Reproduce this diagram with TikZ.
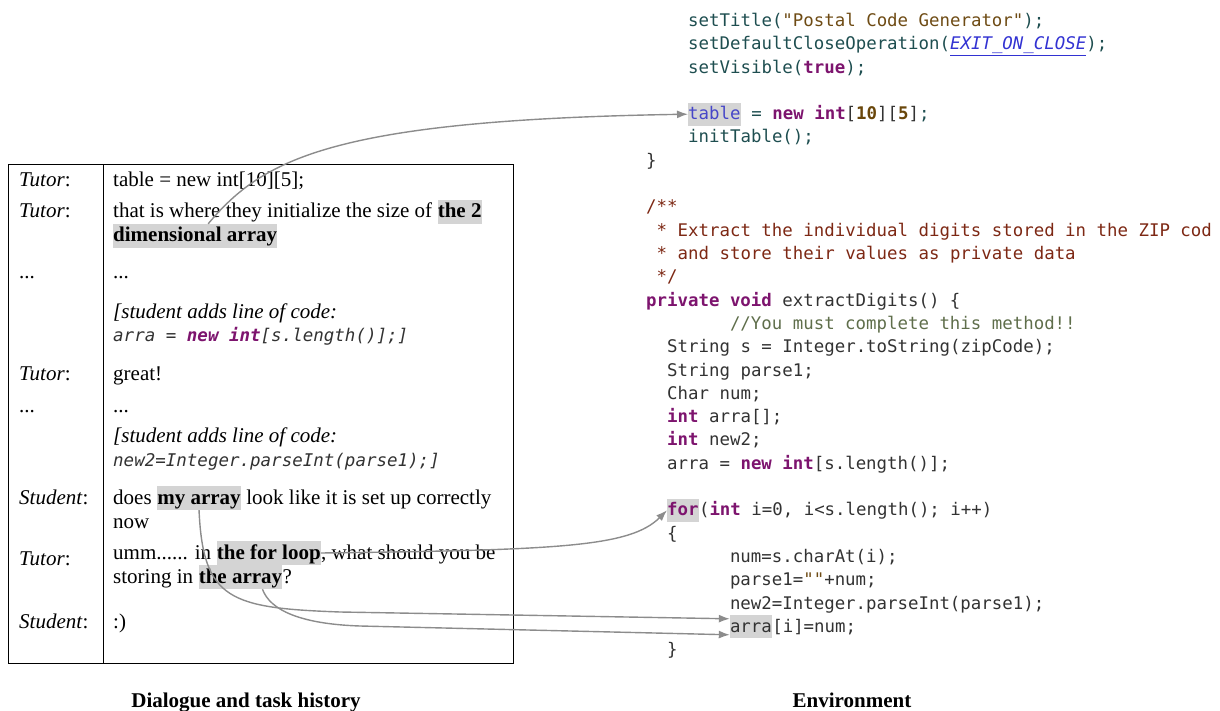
\documentclass[tikz,border=0pt]{standalone}
\usepackage{fontspec}
\setmainfont{Liberation Serif}
\newfontfamily\codefont{DejaVu Sans Mono}[Ligatures=TeXOff]
\usetikzlibrary{arrows.meta}
\definecolor{hlgray}{RGB}{212,212,212}
\definecolor{arrgray}{RGB}{140,140,140}
\definecolor{codegray}{RGB}{50,50,50}
\definecolor{codeteal}{RGB}{30,78,80}
\definecolor{kwpurple}{RGB}{125,20,110}
\definecolor{strbrown}{RGB}{110,75,20}
\definecolor{numbrown}{RGB}{105,70,10}
\definecolor{constblue}{RGB}{50,50,210}
\definecolor{fieldblue}{RGB}{70,70,200}
\definecolor{doccol}{RGB}{125,40,20}
\definecolor{cmtgreen}{RGB}{95,110,75}
\tikzset{dlg/.style={inner sep=0pt, anchor=base west, font=\fontsize{21}{24}\selectfont},
         dlghl/.style={dlg, fill=hlgray, text height=18pt, text depth=6pt},
         dlgcode/.style={dlg, text=codegray, font=\codefont\itshape\fontsize{17.5}{23}\selectfont},
         codeln/.style={inner sep=0pt, anchor=base west, text=codegray, font=\codefont\fontsize{17.4}{23}\selectfont},
         codehl/.style={codeln, fill=hlgray, text height=17pt, text depth=6pt},
         link/.style={draw=arrgray, line width=1.4pt, -{Latex[length=11pt,width=8pt]}},
         paneltitle/.style={anchor=base, font=\fontsize{21}{24}\selectfont\bfseries}}
\begin{document}
\begin{tikzpicture}[x=1pt,y=-1pt]
    \useasboundingbox (0,0) rectangle (1220,711);
    % dialogue and task history
    \draw[line width=1pt] (8,165) rectangle (513,663);
    \draw[line width=1pt] (103,165) -- (103,663);
    \node[dlg] (sp1) at (19,187) {\textit{Tutor}:};
    \node[dlg] (ut1) at (113,187) {table = new int[10][5];};
    \node[dlg] (sp2) at (19,218) {\textit{Tutor}:};
    \node[dlg] (ut2a) at (113,218) {that is where they initialize the size of};
    \node[dlghl] (the2) at ([xshift=5.25pt]ut2a.base east) {\textbf{the 2}};
    \node[dlghl] (dimarr) at (113,242) {\textbf{dimensional array}};
    \node[dlg] (sp3) at (19,278) {...};
    \node[dlg] (ut3) at (113,278) {...};
    \node[dlg] (ut4a) at (113,318) {\textit{[student adds line of code:}};
    \node[dlgcode] (ut4b) at (113,341) {arra = \textcolor{kwpurple}{\bfseries new int}[s.length()];]};
    \node[dlg] (sp5) at (19,380) {\textit{Tutor}:};
    \node[dlg] (ut5) at (113,380) {great!};
    \node[dlg] (sp6) at (19,412) {...};
    \node[dlg] (ut6) at (113,412) {...};
    \node[dlg] (ut7a) at (113,442) {\textit{[student adds line of code:}};
    \node[dlgcode] (ut7b) at (113,466) {new2=Integer.parseInt(parse1);]};
    \node[dlg] (sp8) at (19,504) {\textit{Student}:};
    \node[dlg] (ut8a) at (113,504) {does};
    \node[dlghl] (myarr) at ([xshift=5.25pt]ut8a.base east) {\textbf{my array}};
    \node[dlg] (ut8b) at (myarr.base east) {\ look like it is set up correctly};
    \node[dlg] (ut8c) at (113,528) {now};
    \node[dlg] (sp9) at (19,565) {\textit{Tutor}:};
    \node[dlg] (ut9a) at (113,559) {umm...... in};
    \node[dlghl] (forloop) at ([xshift=5.25pt]ut9a.base east) {\textbf{the for loop}};
    \node[dlg] (ut9b) at (forloop.base east) {, what should you be};
    \node[dlg] (ut9c) at (113,583) {storing in};
    \node[dlghl] (thearr) at ([xshift=5.25pt]ut9c.base east) {\textbf{the array}};
    \node[dlg] (ut9d) at (thearr.base east) {?};
    \node[dlg] (sp10) at (19,628) {\textit{Student}:};
    \node[dlg] (ut10) at (113,628) {:)};
    % environment
    \node[codeln,text=codeteal] (c0) at (688,26.5) {setTitle(\textcolor{strbrown}{"Postal Code Generator"});};
    \node[codeln,text=codeteal] (c1) at (688,49.8) {setDefaultCloseOperation(\textcolor{constblue}{\underline{\itshape EXIT\_ON\_CLOSE}});};
    \node[codeln,text=codeteal] (c2) at (688,73.1) {setVisible(\textcolor{kwpurple}{\bfseries true});};
    \node[codehl,text=fieldblue] (tbl) at (688,119.7) {table};
    \node[codeln,text=codeteal] (c4) at (tbl.base east) {\ = \textcolor{kwpurple}{\bfseries new int}\textcolor{codegray}{[}\textcolor{numbrown}{\bfseries 10}\textcolor{codegray}{][}\textcolor{numbrown}{\bfseries 5}\textcolor{codegray}{]};};
    \node[codeln,text=codeteal] (c5) at (688,143) {initTable();};
    \node[codeln] (c6) at (646,166.3) {\}};
    \node[codeln,text=doccol] (c8) at (646,212.9) {/**};
    \node[codeln,text=doccol] (c9) at (656.5,236.2) {* Extract the individual digits stored in the ZIP cod};
    \node[codeln,text=doccol] (c10) at (656.5,259.5) {* and store their values as private data};
    \node[codeln,text=doccol] (c11) at (656.5,282.8) {*/};
    \node[codeln] (c12) at (646,306.1) {\textcolor{kwpurple}{\bfseries private void} extractDigits() \{};
    \node[codeln,text=cmtgreen] (c13) at (729.8,329.4) {//You must complete this method!!};
    \node[codeln] (c14) at (667,352.7) {String s = Integer.toString(zipCode);};
    \node[codeln] (c15) at (667,376) {String parse1;};
    \node[codeln] (c16) at (667,399.3) {Char num;};
    \node[codeln] (c17) at (667,422.6) {\textcolor{kwpurple}{\bfseries int} arra[];};
    \node[codeln] (c18) at (667,445.9) {\textcolor{kwpurple}{\bfseries int} new2;};
    \node[codeln] (c19) at (667,469.2) {arra = \textcolor{kwpurple}{\bfseries new int}[s.length()];};
    \node[codehl,text=kwpurple] (forkw) at (667,515.8) {\bfseries for};
    \node[codeln] (c21) at (forkw.base east) {(\textcolor{kwpurple}{\bfseries int} i=0, i<s.length(); i++)};
    \node[codeln] (c22) at (667,539.1) {\{};
    \node[codeln] (c23) at (729.8,562.4) {num=s.charAt(i);};
    \node[codeln] (c24) at (729.8,585.7) {parse1=\textcolor{strbrown}{""}+num;};
    \node[codeln] (c25) at (729.8,609) {new2=Integer.parseInt(parse1);};
    \node[codehl] (arra) at (729.8,632.3) {arra};
    \node[codeln] (c26) at (arra.base east) {[i]=num;};
    \node[codeln] (c27) at (667,655.6) {\}};
    % titles
    \node[paneltitle] (dlgttl) at (246,707) {Dialogue and task history};
    \node[paneltitle] (envttl) at (852,707) {Environment};
    % links
    \draw[link] ([xshift=13pt]dimarr.north) .. controls (262,160) and (330,120) .. (tbl.west);
    \draw[link] (forloop.east) .. controls (560,550) and (630,547) .. (forkw.west);
    \draw[link] (myarr.south) .. controls (203,600) and (230,608) .. (340,612) -- ([yshift=8pt]arra.west);
    \draw[link] ([xshift=22pt]thearr.south) .. controls (270,610) and (300,624) .. (360,626) -- ([yshift=-8pt]arra.west);
\end{tikzpicture}
\end{document}
